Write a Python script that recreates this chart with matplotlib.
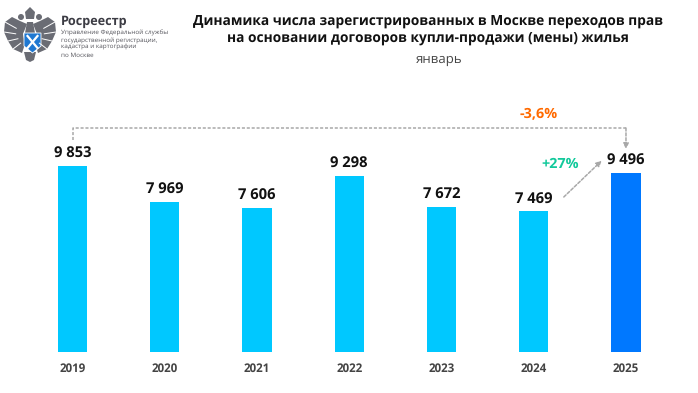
"""Rosreestr Moscow: January housing sale registrations."""

import matplotlib
matplotlib.use('Agg')
import matplotlib.pyplot as plt
from matplotlib.patches import Polygon, Ellipse

years = ['2019', '2020', '2021', '2022', '2023', '2024', '2025']
values = [9853, 7969, 7606, 9298, 7672, 7469, 9496]
value_labels = ['9 853', '7 969', '7 606', '9 298', '7 672', '7 469', '9 496']
title_lines = ['Динамика числа зарегистрированных в Москве переходов прав',
               'на основании договоров купли-продажи (мены) жилья']
subtitle = 'январь'
org_name = 'Росреестр'
org_lines = ['Управление Федеральной службы',
             'государственной регистрации,',
             'кадастра и картографии',
             'по Москве']

W, H = 698, 393
plt.rcParams['font.family'] = ['Open Sans', 'DejaVu Sans']
plt.rcParams['text.hinting'] = 'none'
fig = plt.figure(figsize=(W / 100, H / 100), dpi=100)

# pixel overlay for title and logo
page = fig.add_axes([0, 0, 1, 1])
page.set_xlim(0, W)
page.set_ylim(H, 0)
page.axis('off')

for y, line in zip([21, 38], title_lines):
    page.text(428, y, line, ha='center', va='center', fontsize=9.95,
              fontweight='bold', color='#111111')
page.text(439, 60, subtitle, ha='center', va='center', fontsize=9.5,
          color='#444444')

# logo
page.text(61, 21, org_name, ha='left', va='center', fontsize=9.1,
          fontweight='bold', color='#3c3c44')
for y, line in zip([32.5, 40, 47.5, 55], org_lines):
    page.text(61, y, line, ha='left', va='center', fontsize=4.6,
              color='#55555c')

grey = '#6a6c74'
left_wing = [(27, 24), (20, 21), (12, 17), (5, 22), (4, 32), (8, 41), (13, 49),
             (22, 53), (25, 44), (23, 34)]
for pts in (left_wing, [(60 - x, y) for x, y in left_wing]):
    page.add_patch(Polygon(pts, closed=True, fc=grey, ec='none'))
    # feather gaps
    for i in (3, 4, 5, 6):
        page.plot([pts[i][0], 0.55 * pts[i][0] + 0.45 * 30],
                  [pts[i][1], 0.55 * pts[i][1] + 0.45 * 36],
                  color='white', lw=0.7)
page.add_patch(Polygon([(24, 52), (36, 52), (34, 60), (30, 62), (26, 60)],
                       closed=True, fc=grey, ec='none'))
# crown and heads
page.add_patch(Polygon([(26, 19), (34, 19), (35, 12), (30, 7), (25, 12)],
                       closed=True, fc=grey, ec='none'))
page.add_patch(Ellipse((21, 17), 6, 6, fc=grey, ec='none'))
page.add_patch(Ellipse((39, 17), 6, 6, fc=grey, ec='none'))
page.add_patch(Polygon([(27, 22), (33, 22), (35, 33), (25, 33)],
                       closed=True, fc=grey, ec='none'))
page.add_patch(Polygon([(24, 33), (41, 33), (41, 46), (32.5, 53), (24, 46)],
                       closed=True, fc='#1f78d1', ec='white', lw=0.6))
page.plot([27.5, 37.5], [36, 48], color='white', lw=1.6)
page.plot([37.5, 27.5], [36, 48], color='white', lw=1.6)

# bar chart: baseline at y=352, 92.1 px between bars
ax = fig.add_axes([26.4 / W, 1 - 352 / H, 645.7 / W, 352 / H])
ax.patch.set_alpha(0)
colors = ['#00c8ff'] * 6 + ['#0078ff']
x = list(range(len(years)))
ax.bar(x, values, width=0.315, color=colors)
ax.set_xlim(-0.5, 6.5)
ax.set_ylim(0, 18644)
for s in ax.spines.values():
    s.set_visible(False)
ax.set_yticks([])
ax.set_xticks(x, years, fontsize=8.3, fontweight='bold', color='#444444')
ax.tick_params(axis='x', length=0, pad=8)

for xi, v, label in zip(x, values, value_labels):
    ax.text(xi, v + 260, label, ha='center', va='bottom', fontsize=10.6,
            fontweight='bold', color='#111111')

dash = '#a8a8a8'
top = 11864
ax.plot([x[0], x[0], x[-1], x[-1]],
        [values[0] + 1376, top, top, top], color=dash, lw=1.1,
        ls=(0, (2, 1.2)))
ax.annotate('', xy=(x[-1], values[-1] + 1256), xytext=(x[-1], top),
            arrowprops=dict(arrowstyle='-|>', color=dash, lw=1.1,
                            ls=(0, (2, 1.2)), shrinkA=0, shrinkB=0,
                            mutation_scale=8))
ax.annotate('', xy=(5.736, values[-1] + 636), xytext=(5.326, values[-2] + 741),
            arrowprops=dict(arrowstyle='-|>', color=dash, lw=1.1,
                            ls=(0, (2, 1.2)), shrinkA=0, shrinkB=0,
                            mutation_scale=8))
ax.text(5.05, 12280, '-3,6%', ha='center', va='bottom', fontsize=10.4,
        fontweight='bold', color='#ff6a00')
ax.text(5.29, 9565, '+27%', ha='center', va='bottom', fontsize=10.4,
        fontweight='bold', color='#12c99b')

fig.savefig('out.png', dpi=100)
